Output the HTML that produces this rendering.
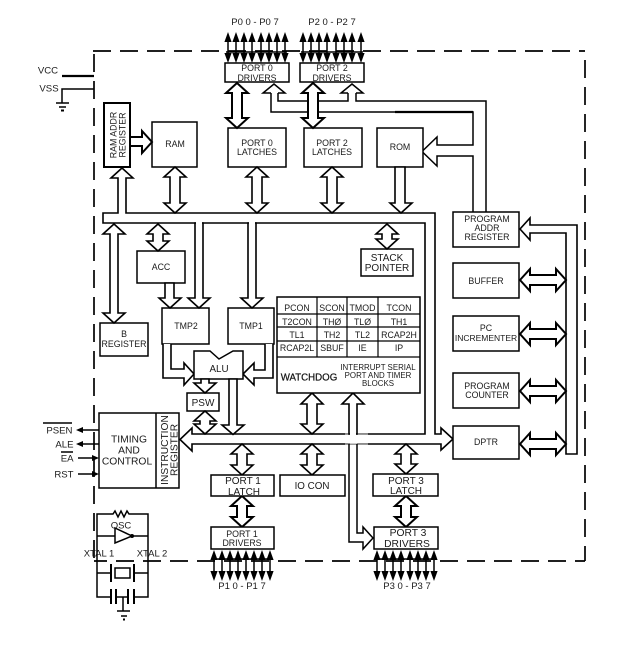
<!DOCTYPE html>
<html><head><meta charset="utf-8"><style>
html,body{margin:0;padding:0;background:#fff}
svg{display:block}
text{font-family:"Liberation Sans",sans-serif;fill:#1a1a1a;text-anchor:middle;font-size:8.8px}
.s{fill:none;stroke:#000;stroke-width:1.5}
.w{fill:#fff;stroke:#000;stroke-width:1.6;stroke-linejoin:miter}
.t{fill:#fff;stroke:#000;stroke-width:2}
.d{fill:none;stroke:#000;stroke-width:1.7;stroke-dasharray:18 9}
.b{fill:#fff;stroke:#000;stroke-width:1.5}
.e{text-anchor:end;font-size:9.6px}
</style></head><body>
<svg width="624" height="645" viewBox="0 0 624 645" xmlns="http://www.w3.org/2000/svg">
<defs>
<g id="pin"><path d="M0 35V60" stroke="#000" stroke-width="1.5"/><path d="M0 32L-3.6 42H3.6Z M0 63L-3.6 53H3.6Z" fill="#000"/></g>
</defs>
<!-- dashed border -->
<line class="d" x1="93" y1="51" x2="585" y2="51"/>
<line class="d" x1="94" y1="50" x2="94" y2="561" stroke-dashoffset="-4"/>
<line class="d" x1="585" y1="51" x2="585" y2="561" stroke-dashoffset="-9"/>
<line class="d" x1="94" y1="561" x2="585" y2="561" stroke-dashoffset="-22"/>
<!-- supply -->
<path d="M62 76H94" stroke="#000" stroke-width="2.2" fill="none"/>
<path class="s" d="M94 89H62V103M56 103H69M59 107H66"/>
<path d="M61 110.5H64" stroke="#000" stroke-width="2"/>
<text x="48" y="73.5" font-size="9.6" style="font-size:9.6px">VCC</text>
<text x="49" y="91.5" style="font-size:9.6px">VSS</text>
<!-- main bus -->
<path class="w" d="M118 178V213H103V223H425V434H192V428L180 439.5L192 451V444H441V450L453 439L441 428V434H435V213H126V178H133L122 168L111 178Z"/>
<!-- port driver buses -->
<path class="s" d="M356 93V101H486V212"/>
<path class="s" d="M348 93V101H278V93"/>
<path class="s" d="M271 93V112H473V145H437V137L422 151.5L437 166V156H473V212"/>
<path d="M395 112H473" stroke="#000" stroke-width="2.2"/>
<path class="s" d="M271 93H263L274 84L285 93H278"/>
<path class="s" d="M348 93H341L352 84L363 93H356"/>
<!-- right bus -->
<path class="w" d="M530 225H577V454H566V233H530V240L520 229L530 218Z"/>
<!-- boxes upper -->
<rect class="t" x="104" y="103" width="26" height="64"/>
<rect class="b" x="152" y="122" width="45" height="45"/>
<rect class="b" x="228" y="128" width="58" height="39"/>
<rect class="b" x="304" y="128" width="58" height="39"/>
<rect class="b" x="377" y="128" width="46" height="39"/>
<rect class="b" x="453" y="212" width="66" height="35"/>
<rect class="b" x="453" y="263" width="66" height="35"/>
<rect class="b" x="453" y="316" width="66" height="35"/>
<rect class="b" x="453" y="373" width="66" height="35"/>
<rect class="b" x="453" y="426" width="66" height="33"/>
<rect class="b" x="100" y="323" width="48" height="33"/>
<rect class="b" x="137" y="251" width="48" height="32"/>
<rect class="b" x="162" y="308" width="47" height="36"/>
<rect class="b" x="228" y="308" width="46" height="36"/>
<rect class="b" x="187" y="393" width="32" height="18"/>
<rect class="b" x="361" y="249" width="52" height="27"/>
<!-- single arrows -->
<polygon class="t" points="130,137 142,137 142,131 152,142 142,153 142,146 130,146"/>
<polygon class="w" points="395,167 395,203 390,203 401,213 412,203 405,203 405,167"/>
<polygon class="w" points="165,283 165,298 159,298 170,308 181,298 174,298 174,283"/>
<polygon class="w" points="195,223 195,298 188,298 199,308 210,298 203,298 203,223"/>
<polygon class="w" points="248,223 248,298 241,298 252,308 263,298 256,298 256,223"/>
<rect x="196" y="220" width="6" height="5" fill="#fff"/>
<rect x="249" y="220" width="6" height="5" fill="#fff"/>
<!-- ALU -->
<path class="w" d="M163 344V378H184V385L194 374L184 363V369H171V344"/>
<path class="w" d="M273 344V378H254V385L243 374L254 363V370H265V344"/>
<polygon class="b" points="194,351 210,351 219,359 233,351 243,351 243,379 194,379"/>
<polygon class="w" points="201,379 201,383 194,383 205,393 216,383 209,383 209,379"/>
<polygon class="w" points="229,379 229,425 222,425 233,434.5 244,425 237,425 237,379"/>
<!-- vertical port3 bus -->
<rect x="350" y="432" width="7" height="14" fill="#fff"/>
<rect x="345" y="433.5" width="23" height="1.5" fill="#999"/>
<rect x="345" y="443.5" width="23" height="1.5" fill="#999"/>
<polygon class="w" points="349,434 349,404 342,404 353,393 364,404 357,404 357,434" style="stroke-linejoin:miter"/>
<rect x="350" y="432" width="6" height="4" fill="#fff"/>
<path class="s" d="M349 444V542H363V549L373 538L363 527V533H357V444"/>
<!-- double vertical arrows -->
<g class="w" style="fill:#fff;stroke:#000;stroke-width:1.6">
<polygon points="175,167 186,177 180,177 180,203 186,203 175,213 164,203 170,203 170,177 164,177"/>
<polygon stroke-width="2" style="stroke-width:2" points="237,83 248,93 242,93 242,118 248,118 237,128 226,118 232,118 232,93 226,93"/>
<polygon style="stroke-width:2" points="313,83 324,93 318,93 318,118 324,118 313,128 302,118 308,118 308,93 302,93"/>
<polygon points="257,167 268,177 262,177 262,203 268,203 257,213 246,203 252,203 252,177 246,177"/>
<polygon points="332,167 343,177 337,177 337,203 343,203 332,213 321,203 327,203 327,177 321,177"/>
<polygon points="114,224 125,234 118,234 118,313 125,313 114,323 103,313 110,313 110,234 103,234"/>
<polygon points="158,224 169,234 163,234 163,241 169,241 158,251 147,241 153,241 153,234 147,234"/>
<polygon points="387,224 398,234 392,234 392,239 398,239 387,249 376,239 382,239 382,234 376,234"/>
<polygon points="205,411 216,421 210,421 210,424 216,424 205,434 194,424 200,424 200,421 194,421"/>
<polygon points="312,393 323,404 317,404 317,424 323,424 312,434 301,424 307,424 307,404 301,404"/>
<polygon points="242,444 253,454 247,454 247,465 253,465 242,475 231,465 237,465 237,454 231,454"/>
<polygon points="312,444 323,454 317,454 317,465 323,465 312,475 301,465 307,465 307,454 301,454"/>
<polygon points="406,444 417,454 411,454 411,464 417,464 406,474 395,464 401,464 401,454 395,454"/>
<polygon style="stroke-width:2" points="242,496 253,506 247,506 247,517 253,517 242,527 231,517 237,517 237,506 231,506"/>
<polygon style="stroke-width:2" points="406,496 417,506 411,506 411,517 417,517 406,527 395,517 401,517 401,506 395,506"/>
<!-- double horizontal arrows -->
<polygon style="stroke-width:2" points="520,280 530,269 530,275 556,275 556,269 566,280 556,291 556,285 530,285 530,291"/>
<polygon style="stroke-width:2" points="520,334 530,323 530,329 556,329 556,323 566,334 556,345 556,339 530,339 530,345"/>
<polygon style="stroke-width:2" points="520,391 530,380 530,386 556,386 556,380 566,391 556,402 556,396 530,396 530,402"/>
<polygon style="stroke-width:2" points="520,444 530,433 530,439 556,439 556,433 566,444 556,455 556,449 530,449 530,455"/>
</g>
<!-- pins -->
<use href="#pin" x="228"/><use href="#pin" x="236"/><use href="#pin" x="244"/><use href="#pin" x="252"/><use href="#pin" x="261"/><use href="#pin" x="269"/><use href="#pin" x="277"/><use href="#pin" x="285"/>
<use href="#pin" x="303"/><use href="#pin" x="311"/><use href="#pin" x="319"/><use href="#pin" x="327"/><use href="#pin" x="336"/><use href="#pin" x="344"/><use href="#pin" x="352"/><use href="#pin" x="361"/>
<use href="#pin" x="214" y="518"/><use href="#pin" x="222" y="518"/><use href="#pin" x="230" y="518"/><use href="#pin" x="238" y="518"/><use href="#pin" x="246" y="518"/><use href="#pin" x="254" y="518"/><use href="#pin" x="262" y="518"/><use href="#pin" x="270" y="518"/>
<use href="#pin" x="377" y="518"/><use href="#pin" x="385" y="518"/><use href="#pin" x="393" y="518"/><use href="#pin" x="401" y="518"/><use href="#pin" x="410" y="518"/><use href="#pin" x="418" y="518"/><use href="#pin" x="426" y="518"/><use href="#pin" x="434" y="518"/>
<path class="s" d="M226 52H287M301 52H363M212 559H272M375 559H436"/>
<!-- port boxes -->
<rect class="b" x="225" y="63" width="64" height="19"/>
<rect class="b" x="300" y="63" width="64" height="19"/>
<rect class="b" x="211" y="475" width="63" height="21"/>
<rect class="b" x="280" y="475" width="65" height="21"/>
<rect class="b" x="373" y="474" width="65" height="22"/>
<rect class="b" x="211" y="527" width="63" height="22"/>
<rect class="b" x="374" y="527" width="64" height="22"/>
<!-- table -->
<rect class="b" x="277" y="297" width="143" height="96"/>
<path d="M277 314H420M277 327H420M277 341H420M277 357H420M317 297V357M347 297V357M378 297V357" stroke="#000" stroke-width="1.2" fill="none"/>
<!-- timing -->
<rect class="b" x="99" y="413" width="80" height="75"/>
<path class="s" d="M156 413V488"/>
<path class="s" d="M99 430H80M99 444H80M78 458H93M78 474H93"/>
<path d="M76 430L83 427V433ZM76 444L83 441V447ZM99 458L92 455V461ZM99 474L92 471V477Z" fill="#000"/>
<path class="s" d="M43 423H72M61 452H73"/>
<!-- OSC -->
<path class="s" d="M97 561V514H113L115 511L118 517L121 511L124 517L127 511L129 514H148V597H134M97 561V597H111M97 536H115M132 536H148M97 573H111M134 573H148M116 597H128M123 597V611M117 611H130M121 616H127"/>
<path d="M123 619.5H125" stroke="#000" stroke-width="2"/>
<polygon class="b" points="115,528 115,543 132,536"/>
<circle cx="132" cy="536" r="2" fill="#000"/>
<path d="M111 564V582M134 564V582M111 589V604M116 589V604M128 589V604M134 589V604" stroke="#000" stroke-width="2" fill="none"/>
<rect class="b" x="115" y="568" width="15" height="10"/>
<!-- text -->
<text x="255" y="25" style="font-size:9.5px">P0 0 - P0 7</text>
<text x="332" y="25" style="font-size:9.5px">P2 0 - P2 7</text>
<text x="257" y="71">PORT 0</text><text x="257" y="81">DRIVERS</text>
<text x="332" y="71">PORT 2</text><text x="332" y="81">DRIVERS</text>
<text x="257" y="146">PORT 0</text><text x="257" y="155">LATCHES</text>
<text x="332" y="146">PORT 2</text><text x="332" y="155">LATCHES</text>
<text x="400" y="150">ROM</text>
<text x="175" y="147">RAM</text>
<text transform="translate(116.5 135) rotate(-90)">RAM ADDR</text>
<text transform="translate(125.5 135) rotate(-90)">REGISTER</text>
<text x="487" y="222">PROGRAM</text><text x="487" y="231">ADDR</text><text x="487" y="240">REGISTER</text>
<text x="486" y="284">BUFFER</text>
<text x="486" y="331">PC</text><text x="486" y="341" style="font-size:8.5px">INCREMENTER</text>
<text x="487" y="389">PROGRAM</text><text x="487" y="398">COUNTER</text>
<text x="486" y="445">DPTR</text>
<text x="124" y="337">B</text><text x="124" y="347">REGISTER</text>
<text x="161" y="270">ACC</text>
<text x="186" y="329">TMP2</text>
<text x="251" y="329">TMP1</text>
<text x="219" y="372" style="font-size:9.8px">ALU</text>
<text x="203" y="406" style="font-size:10px">PSW</text>
<text x="387" y="261" style="font-size:10px">STACK</text><text x="387" y="271" style="font-size:10px">POINTER</text>
<text x="297" y="311">PCON</text><text x="332" y="311">SCON</text><text x="362.5" y="311">TMOD</text><text x="399" y="311">TCON</text>
<text x="297" y="325">T2CON</text><text x="332" y="325">THØ</text><text x="362.5" y="325">TLØ</text><text x="399" y="325">TH1</text>
<text x="297" y="338">TL1</text><text x="332" y="338">TH2</text><text x="362.5" y="338">TL2</text><text x="399" y="338">RCAP2H</text>
<text x="297" y="351">RCAP2L</text><text x="332" y="351">SBUF</text><text x="362.5" y="351">IE</text><text x="399" y="351">IP</text>
<text x="309" y="380.5" style="font-size:9.7px;stroke:#000;stroke-width:.2">WATCHDOG</text>
<text x="378" y="370" style="font-size:7.9px">INTERRUPT SERIAL</text><text x="378" y="378" style="font-size:7.9px">PORT AND TIMER</text><text x="378" y="386" style="font-size:7.9px">BLOCKS</text>
<text x="129" y="442.5" style="font-size:10.3px">TIMING</text><text x="129" y="453.5" style="font-size:10.3px">AND</text><text x="127" y="464.5" style="font-size:10.3px">CONTROL</text>
<text transform="translate(168 450) rotate(-90)" style="font-size:10.2px">INSTRUCTION</text>
<text transform="translate(177.5 450) rotate(-90)" style="font-size:10.2px">REGISTER</text>
<text class="e" x="72.5" y="433.5">PSEN</text>
<text class="e" x="73.5" y="447.5">ALE</text>
<text class="e" x="73.5" y="461.5">EA</text>
<text class="e" x="73.5" y="477.5">RST</text>
<text x="121" y="528.5" style="font-size:9.5px">OSC</text>
<text x="99" y="556.5" style="font-size:9.5px">XTAL 1</text>
<text x="152" y="556.5" style="font-size:9.5px">XTAL 2</text>
<text x="243" y="484" style="font-size:10px">PORT 1</text><text x="244" y="495" style="font-size:10px">LATCH</text>
<text x="312" y="489" style="font-size:9.8px">IO CON</text>
<text x="406" y="484" style="font-size:10px">PORT 3</text><text x="406" y="494" style="font-size:10px">LATCH</text>
<text x="242" y="537">PORT 1</text><text x="242" y="546">DRIVERS</text>
<text x="408" y="536" style="font-size:10.3px">PORT 3</text><text x="407" y="547" style="font-size:10.3px">DRIVERS</text>
<text x="242" y="589" style="font-size:9.5px">P1 0 - P1 7</text>
<text x="407" y="589" style="font-size:9.5px">P3 0 - P3 7</text>
</svg>
</body></html>
